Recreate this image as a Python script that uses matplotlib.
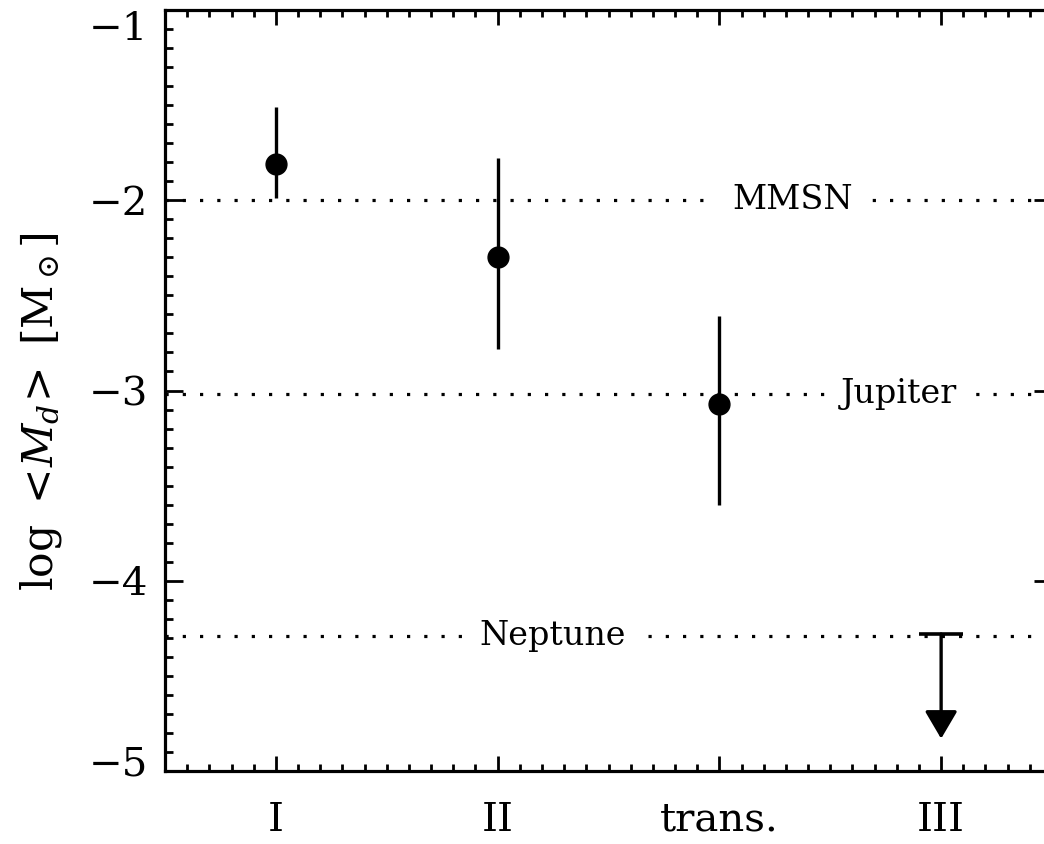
import numpy as np
import matplotlib
matplotlib.use("Agg")
import matplotlib.pyplot as plt
from matplotlib.ticker import MultipleLocator
from matplotlib.transforms import ScaledTranslation

# ---------------- data ----------------
categories = ["I", "II", "trans.", "III"]
mean_logM = [-1.81, -2.30, -3.07]          # detections (I, II, trans.)
high_logM = [-1.51, -1.78, -2.61]          # top of error bar
low_logM = [-1.99, -2.78, -3.60]           # bottom of error bar
upper_limit_III = -4.28                    # class III upper limit
arrow_tip_III = -4.83

ref_names = ["MMSN", "Jupiter", "Neptune"]
ref_values = [-2.0, -3.02, -4.29]
ref_label_x = [3.33, 3.81, 2.25]           # where the labels sit

yticks = [-1, -2, -3, -4, -5]
ytick_labels = ["\u22121", "\u22122", "\u22123", "\u22124", "\u22125"]

# ---------------- style ----------------
plt.rcParams["font.family"] = ["DejaVu Serif"]
plt.rcParams["mathtext.fontset"] = "dejavuserif"

fig = plt.figure(figsize=(10.44, 8.44), dpi=100)
ax = fig.add_axes([165 / 1044, 1 - 771 / 844, (1052 - 165) / 1044, 761 / 844])

xpos = np.arange(1, len(categories) + 1)

# reference dotted lines
for name, val, lx in zip(ref_names, ref_values, ref_label_x):
    ax.axhline(val, color="k", lw=2.3, linestyle=(0, (1.0, 4.4)), zorder=1)
    ax.text(lx, val, name, fontsize=24, ha="center", va="center",
            bbox=dict(facecolor="white", edgecolor="none", pad=11), zorder=2)

# detections with asymmetric error bars
m = np.array(mean_logM)
yerr = [m - np.array(low_logM), np.array(high_logM) - m]
ax.errorbar(xpos[:3], m, yerr=yerr, fmt="o", color="k", ms=15,
            elinewidth=2.4, capsize=0, zorder=4)

# upper limit for class III
ax.plot([xpos[3]], [upper_limit_III], marker="_", ms=32, mew=2.6, color="k", zorder=4)
ax.annotate("", xy=(xpos[3], arrow_tip_III), xytext=(xpos[3], upper_limit_III),
            arrowprops=dict(arrowstyle="-|>,head_length=17,head_width=10",
                            mutation_scale=1, color="k", lw=2.4,
                            shrinkA=0, shrinkB=0), zorder=4)

# axes
ax.set_xlim(0.5, 4.5)
ax.set_ylim(-5, -1)
ax.set_xticks(xpos)
ax.set_xticklabels(categories, fontsize=29)
ax.set_yticks(yticks)
ax.set_yticklabels(ytick_labels, fontsize=29)
ax.xaxis.set_minor_locator(MultipleLocator(0.1))
ax.yaxis.set_minor_locator(MultipleLocator(0.1))
ax.tick_params(which="both", direction="in", top=True, right=True, width=2.0, color="k")
ax.tick_params(axis="x", which="major", length=11, pad=22)
ax.tick_params(axis="x", which="minor", length=5)
ax.tick_params(axis="y", which="major", length=13, pad=12)
ax.tick_params(axis="y", which="minor", length=5.5)
for sp in ax.spines.values():
    sp.set_linewidth(2.3)

ax.set_ylabel(r"log $<\!M_d\!>$ [M$_\odot$]", fontsize=30.5)
ax.yaxis.set_label_coords(-0.114, 0.472)

# IDL-like shifted end labels
ticks = ax.yaxis.get_major_ticks()
for t in ticks:
    if t.get_loc() == -1:
        t.label1.set_transform(t.label1.get_transform() + ScaledTranslation(0, -16 / 100, fig.dpi_scale_trans))
    if t.get_loc() == -5:
        t.label1.set_transform(t.label1.get_transform() + ScaledTranslation(0, 10 / 100, fig.dpi_scale_trans))

fig.savefig("out.png", dpi=100)
